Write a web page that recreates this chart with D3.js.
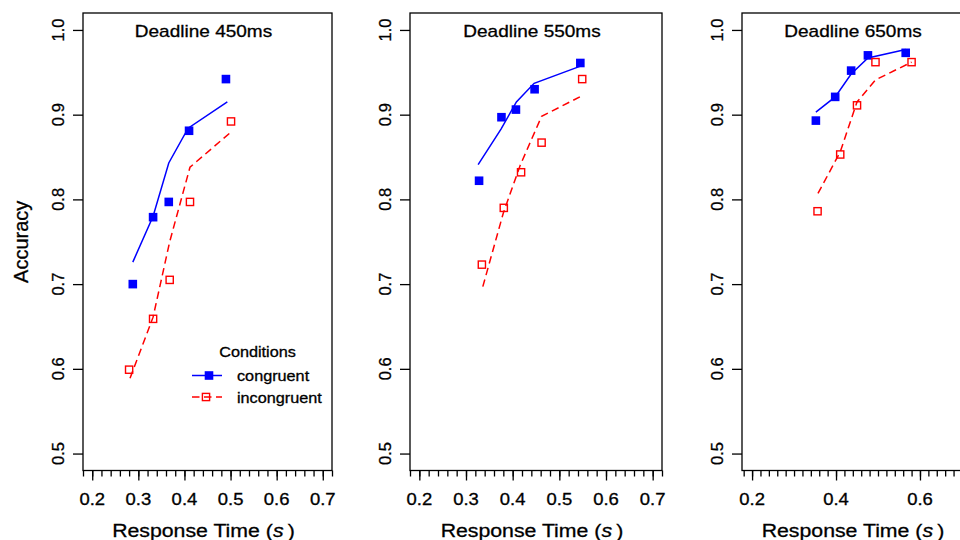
<!DOCTYPE html>
<html>
<head>
<meta charset="utf-8">
<script src="https://cdn.jsdelivr.net/npm/d3@7"></script>
<style>
  body { margin: 0; background: #fff; }
  svg { display: block; }
  text { font-family: "Liberation Sans", Arial, sans-serif; fill: #000; stroke: #000; stroke-width: 0.3px; }
</style>
</head>
<body>
<div id="chart"></div>
<script>
// ---- data ----
const deadlines = ['Deadline 450ms', 'Deadline 550ms', 'Deadline 650ms'];
const conditions = ['congruent', 'incongruent'];
const accuracyTicks = [0.5, 0.6, 0.7, 0.8, 0.9, 1.0];
const rtTicks = [
  [0.2, 0.3, 0.4, 0.5, 0.6, 0.7],
  [0.2, 0.3, 0.4, 0.5, 0.6, 0.7],
  [0.2, 0.4, 0.6, 0.8]
];

// observed data (squares)
const congruentRT = [
  [0.288, 0.332, 0.366, 0.410, 0.490],
  [0.328, 0.376, 0.407, 0.447, 0.545],
  [0.352, 0.398, 0.436, 0.476, 0.566]
];
const congruentAcc = [
  [0.700, 0.779, 0.797, 0.881, 0.942],
  [0.822, 0.897, 0.906, 0.930, 0.961],
  [0.893, 0.921, 0.952, 0.970, 0.973]
];
const incongruentRT = [
  [0.280, 0.332, 0.368, 0.412, 0.501],
  [0.334, 0.381, 0.418, 0.462, 0.549],
  [0.356, 0.410, 0.450, 0.494, 0.580]
];
const incongruentAcc = [
  [0.599, 0.659, 0.705, 0.797, 0.892],
  [0.723, 0.790, 0.832, 0.867, 0.942],
  [0.786, 0.853, 0.911, 0.962, 0.962]
];

// model predictions (lines)
const congruentFitRT = [
  [0.288, 0.332, 0.366, 0.408, 0.493],
  [0.326, 0.375, 0.408, 0.446, 0.544],
  [0.352, 0.398, 0.436, 0.476, 0.566]
];
const congruentFitAcc = [
  [0.726, 0.780, 0.843, 0.884, 0.915],
  [0.841, 0.883, 0.915, 0.937, 0.957],
  [0.903, 0.921, 0.948, 0.967, 0.977]
];
const incongruentFitRT = [
  [0.282, 0.332, 0.368, 0.412, 0.502],
  [0.336, 0.380, 0.416, 0.462, 0.544],
  [0.357, 0.410, 0.450, 0.494, 0.580]
];
const incongruentFitAcc = [
  [0.589, 0.661, 0.750, 0.838, 0.880],
  [0.697, 0.784, 0.840, 0.898, 0.921],
  [0.807, 0.856, 0.915, 0.941, 0.962]
];

// ---- layout ----
const WIDTH = 960, HEIGHT = 540;
const PLOT_TOP = 13, PLOT_BOTTOM = 470.5;
const panelLeft = [83, 410, 742];
const panelRight = [332, 662, 1014];
const xDomains = [[0.18, 0.72], [0.18, 0.72], [0.176, 0.824]];
const BLUE = '#0000ff', RED = '#ff0000';
const STRETCH = 1.12; // reference text is a little wider than its height suggests
const DASH = '7.5,4.5';

const svg = d3.select('#chart').append('svg')
  .attr('width', WIDTH).attr('height', HEIGHT);

const y = d3.scaleLinear().domain([0.48, 1.02]).range([PLOT_BOTTOM, PLOT_TOP]);

function wideText(parent, x, yPos, str, size, anchor) {
  return parent.append('text')
    .attr('transform', `translate(${x},${yPos}) scale(${STRETCH},1)`)
    .attr('text-anchor', anchor || 'middle')
    .style('font-size', size + 'px')
    .text(str);
}

function drawSquares(g, xs, ys, x, color, filled) {
  const pts = d3.zip(xs, ys);
  if (filled) {
    g.selectAll(null).data(pts).enter().append('rect')
      .attr('x', d => x(d[0]) - 4.3).attr('y', d => y(d[1]) - 4.3)
      .attr('width', 8.6).attr('height', 8.6)
      .attr('fill', color);
  } else {
    g.selectAll(null).data(pts).enter().append('rect')
      .attr('x', d => x(d[0]) - 3.6).attr('y', d => y(d[1]) - 3.6)
      .attr('width', 7.2).attr('height', 7.2)
      .attr('fill', 'none').attr('stroke', color).attr('stroke-width', 1.4);
  }
}

deadlines.forEach((title, i) => {
  const x = d3.scaleLinear().domain(xDomains[i]).range([panelLeft[i], panelRight[i]]);
  const g = svg.append('g').attr('class', 'panel');
  const center = (x(rtTicks[i][0]) + x(0.7)) / 2 - 4;

  // y axis
  const yAxis = g.append('g').attr('transform', `translate(${panelLeft[i]},0)`)
    .call(d3.axisLeft(y).tickValues(accuracyTicks).tickSize(10).tickFormat(''));
  yAxis.select('.domain').remove();
  yAxis.selectAll('line').attr('stroke', '#000').attr('stroke-width', 1.3);
  accuracyTicks.forEach(v => {
    g.append('text')
      .attr('transform', `translate(${panelLeft[i] - 19.5},${y(v)}) rotate(-90)`)
      .attr('text-anchor', 'middle')
      .style('font-size', '16.5px')
      .text(d3.format('.1f')(v));
  });

  // x axis: minor ticks every 0.02, labelled majors
  const minor = d3.range(xDomains[i][0] + 0.004, xDomains[i][1] + 0.005, 0.02)
    .map(v => Math.round(v * 100) / 100)
    .filter(v => v >= xDomains[i][0] - 1e-9 && v <= xDomains[i][1] + 1e-9);
  const xMinor = g.append('g').attr('transform', `translate(0,${PLOT_BOTTOM})`)
    .call(d3.axisBottom(x).tickValues(minor).tickSize(6).tickFormat(''));
  xMinor.select('.domain').remove();
  xMinor.selectAll('line').attr('stroke', '#000').attr('stroke-width', 1.3);
  const xMajor = g.append('g').attr('transform', `translate(0,${PLOT_BOTTOM})`)
    .call(d3.axisBottom(x).tickValues(rtTicks[i]).tickSize(10).tickFormat(''));
  xMajor.select('.domain').remove();
  xMajor.selectAll('line').attr('stroke', '#000').attr('stroke-width', 1.3);
  // labels that would fall past the page edge are not shown in the reference either
  rtTicks[i].filter(v => x(v) + 14 < WIDTH)
    .forEach(v => wideText(g, x(v), 505, d3.format('.1f')(v), 16.5));

  // axis title
  const xt = g.append('text')
    .attr('transform', `translate(${center},536.5) scale(${STRETCH},1)`)
    .attr('text-anchor', 'middle')
    .style('font-size', '19px');
  xt.append('tspan').text('Response Time (');
  xt.append('tspan').style('font-style', 'italic').text('s');
  xt.append('tspan').text('\u2009)');

  // box
  g.append('rect')
    .attr('x', panelLeft[i]).attr('y', PLOT_TOP)
    .attr('width', panelRight[i] - panelLeft[i]).attr('height', PLOT_BOTTOM - PLOT_TOP)
    .attr('fill', 'none').attr('stroke', '#000').attr('stroke-width', 1.3);

  wideText(g, center, 36.5, title, 17);

  // model lines
  const line = d3.line().x(d => x(d[0])).y(d => y(d[1]));
  g.append('path').datum(d3.zip(congruentFitRT[i], congruentFitAcc[i]))
    .attr('d', line).attr('fill', 'none').attr('stroke', BLUE).attr('stroke-width', 1.5);
  g.append('path').datum(d3.zip(incongruentFitRT[i], incongruentFitAcc[i]))
    .attr('d', line).attr('fill', 'none').attr('stroke', RED).attr('stroke-width', 1.5)
    .attr('stroke-dasharray', DASH);

  // observed points
  drawSquares(g, congruentRT[i], congruentAcc[i], x, BLUE, true);
  drawSquares(g, incongruentRT[i], incongruentAcc[i], x, RED, false);
});

// y axis title, first panel only
svg.append('text')
  .attr('transform', `translate(28,${(PLOT_TOP + PLOT_BOTTOM) / 2}) rotate(-90)`)
  .attr('text-anchor', 'middle')
  .style('font-size', '20px')
  .text('Accuracy');

// legend inside the first panel
const legend = svg.append('g').attr('class', 'legend');
wideText(legend, 257.5, 357, 'Conditions', 14.5);
const legendRows = [
  { name: conditions[0], color: BLUE, filled: true, dash: null, y: 375.5 },
  { name: conditions[1], color: RED, filled: false, dash: DASH, y: 397 }
];
legendRows.forEach(r => {
  legend.append('line')
    .attr('x1', 192).attr('x2', 222).attr('y1', r.y).attr('y2', r.y)
    .attr('stroke', r.color).attr('stroke-width', 1.5)
    .attr('stroke-dasharray', r.dash);
  if (r.filled) {
    legend.append('rect').attr('x', 204.7).attr('y', r.y - 4.3)
      .attr('width', 8.6).attr('height', 8.6).attr('fill', r.color);
  } else {
    legend.append('rect').attr('x', 202.4).attr('y', r.y - 3.6)
      .attr('width', 7.2).attr('height', 7.2)
      .attr('fill', 'none').attr('stroke', r.color).attr('stroke-width', 1.4);
  }
  wideText(legend, 237, r.y + 5.5, r.name, 14.5, 'start');
});
</script>
</body>
</html>
